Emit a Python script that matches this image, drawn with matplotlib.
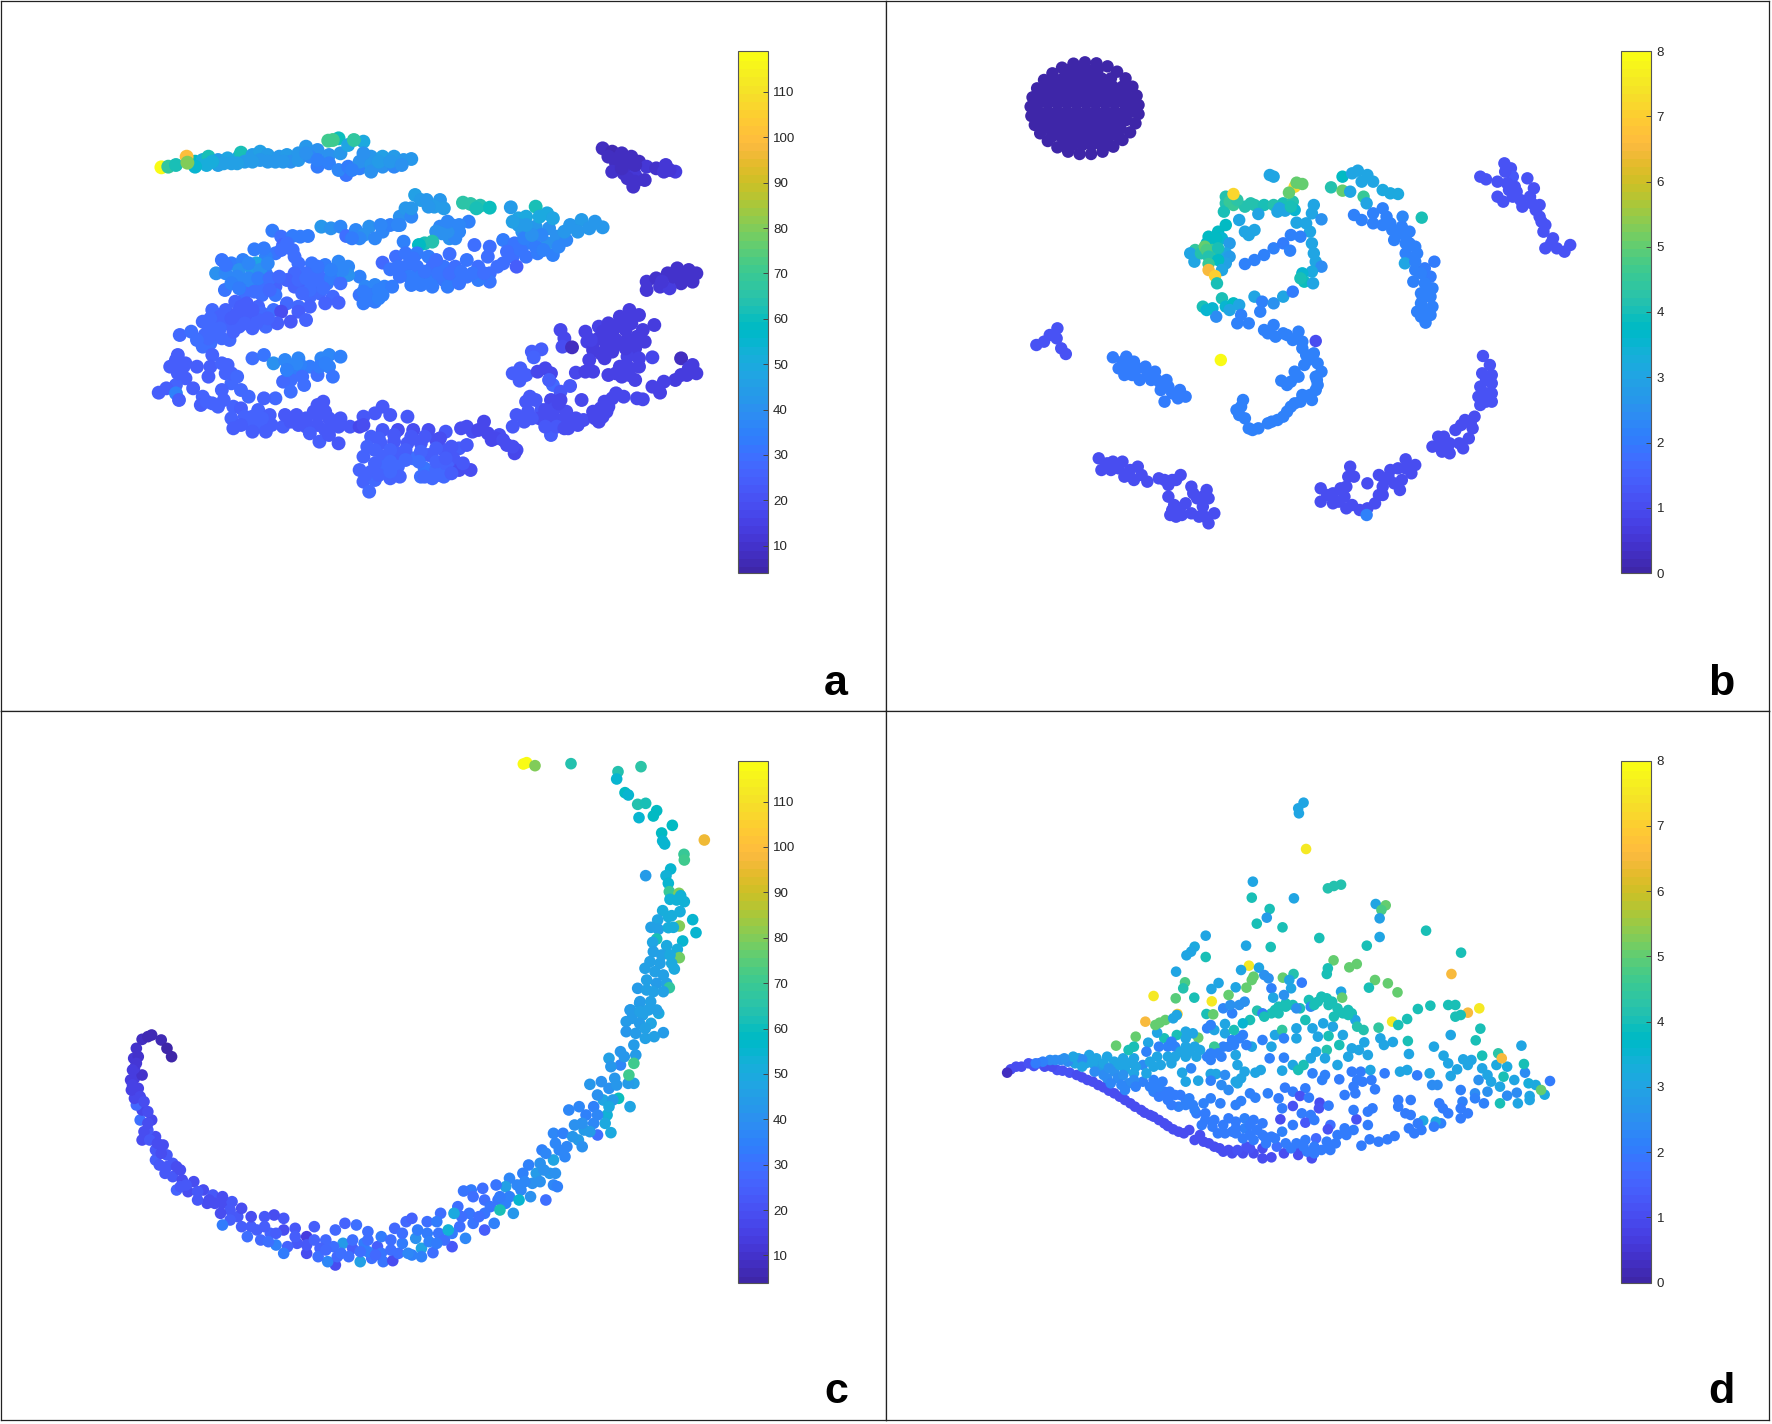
import numpy as np
import matplotlib
matplotlib.use('Agg')
import matplotlib.pyplot as plt
from matplotlib.colors import ListedColormap

plt.rcParams['font.family'] = ['Liberation Sans', 'DejaVu Sans']

# parula, the newer matlab version
parula_rgb = [
    [0.2422,0.1504,0.6603],[0.2504,0.1650,0.7076],[0.2578,0.1818,0.7511],[0.2647,0.1978,0.7952],
    [0.2706,0.2147,0.8364],[0.2751,0.2342,0.8710],[0.2783,0.2559,0.8991],[0.2803,0.2782,0.9221],
    [0.2813,0.3006,0.9414],[0.2810,0.3228,0.9579],[0.2795,0.3447,0.9717],[0.2760,0.3667,0.9829],
    [0.2699,0.3892,0.9906],[0.2602,0.4123,0.9952],[0.2440,0.4358,0.9988],[0.2206,0.4603,0.9973],
    [0.1963,0.4847,0.9892],[0.1834,0.5074,0.9798],[0.1786,0.5289,0.9682],[0.1764,0.5499,0.9520],
    [0.1687,0.5703,0.9359],[0.1540,0.5902,0.9218],[0.1460,0.6091,0.9079],[0.1380,0.6276,0.8973],
    [0.1248,0.6459,0.8883],[0.1113,0.6635,0.8763],[0.0952,0.6798,0.8598],[0.0689,0.6948,0.8394],
    [0.0297,0.7082,0.8163],[0.0036,0.7203,0.7917],[0.0067,0.7312,0.7660],[0.0433,0.7411,0.7394],
    [0.0964,0.7500,0.7120],[0.1408,0.7584,0.6842],[0.1717,0.7670,0.6554],[0.1938,0.7758,0.6251],
    [0.2161,0.7843,0.5923],[0.2470,0.7918,0.5567],[0.2906,0.7973,0.5188],[0.3406,0.8008,0.4789],
    [0.3909,0.8029,0.4354],[0.4456,0.8024,0.3909],[0.5044,0.7993,0.3480],[0.5616,0.7942,0.3045],
    [0.6174,0.7876,0.2612],[0.6720,0.7793,0.2227],[0.7242,0.7698,0.1910],[0.7738,0.7598,0.1646],
    [0.8203,0.7498,0.1535],[0.8634,0.7406,0.1596],[0.9035,0.7330,0.1774],[0.9393,0.7288,0.2100],
    [0.9728,0.7298,0.2394],[0.9956,0.7434,0.2371],[0.9970,0.7659,0.2199],[0.9952,0.7893,0.2028],
    [0.9892,0.8136,0.1885],[0.9786,0.8386,0.1766],[0.9676,0.8639,0.1643],[0.9610,0.8890,0.1537],
    [0.9597,0.9135,0.1423],[0.9628,0.9373,0.1265],[0.9691,0.9606,0.1064],[0.9769,0.9839,0.0805]]
parula = ListedColormap(parula_rgb)

# values: (x, y, colour value) in read-off units of each panel
a_streak = [(82,172,119),(100,170,68),(120,165,62),(170,155,58),(190,150,52),(205,140,62),(230,150,44),(255,145,48),
    (285,140,50),(290,128,62),(320,135,45),(340,125,46),(360,135,45),(390,140,42),(410,135,44),(420,155,40),
    (380,155,42),(340,150,42),(300,155,44),(265,160,46),(230,165,46),(200,165,52),(440,150,42),(460,110,42),
    (490,120,40),(520,135,40),(470,140,38),(490,170,34),(520,160,36),(550,130,42),(545,85,60),(610,95,50),
    (570,105,48),(565,195,32),(545,180,38),(570,170,34),(600,175,36),(600,155,40),(630,140,42),(630,165,42),
    (660,140,46),(660,170,40),(690,140,44),(690,170,38),(715,150,42),(735,147,42),(630,185,40),
    (320,155,44),(360,155,42),(400,155,42),(440,130,42),(460,130,40),(490,150,36),(280,160,46),(245,160,46),(215,155,52),
    (170,170,56),(650,155,44),(680,155,42),(610,130,40),(710,165,40),(580,180,36),
    (148,140,100),(150,158,80),(530,90,72),(518,92,72),(585,90,68)]
a_dark_top = [(1235,115,8),(1260,125,7),(1285,130,8),(1310,140,8),(1330,155,9),(1270,160,9),(1300,165,9),(1260,185,10),
    (1290,190,10),(1320,195,12),(1345,210,10),(1315,230,11),(1350,170,12),(1375,175,10),(1400,165,12),(1425,185,14),
    (1280,145,8),(1300,205,10),(1250,140,8),(1275,145,8),(1295,150,8),(1320,165,9),(1285,175,9),(1320,215,10),(1395,185,12),(1410,180,12)]
a_dark_mid = [(1350,515,12),(1350,540,12),(1375,505,11),(1385,530,12),(1405,490,10),(1430,475,10),(1460,480,10),
    (1480,490,10),(1470,515,11),(1440,520,11),(1410,535,13),(1420,500,11),(1390,515,12),(1435,495,10),(1450,500,10),(1460,500,11)]
a_ridge = [(500,350,42),(525,355,40),(550,350,38),(565,378,30),(590,360,38),(610,375,40),(625,350,40),(640,385,38),
    (660,365,38),(680,345,36),(705,320,40),(720,295,42),(745,255,46),(760,270,44),(735,320,38),(775,270,42),
    (810,270,42),(820,295,44),(795,290,44),(810,350,38),(840,345,38),(860,365,38),(885,335,36),(835,385,40),(815,370,40),
    (850,385,38),(715,395,36),(900,405,30),(600,385,38),(580,385,34),(700,345,38),(655,345,38),(735,295,42),(705,345,38),
    (780,290,42),(830,365,40),(800,365,40),(830,335,38),(860,345,38),
    (870,278,66),(890,282,66),(915,287,64),(940,293,60),(905,295,62),(770,400,62),(790,395,64),(755,405,58)]
a_mass = [(695,440,30),(660,458,28),(680,478,32),(720,430,32),(750,430,34),(780,440,34),(720,470,32),(750,470,32),
    (730,500,34),(760,500,34),(790,470,30),(790,510,34),(820,470,32),(850,470,30),(880,450,32),(835,432,30),
    (820,510,32),(850,500,32),(880,500,32),(910,470,30),(935,440,30),(940,490,30),(940,515,32),(960,470,30),
    (910,510,34),(830,530,34),(735,525,34),(940,410,30),(975,390,34),(1005,400,32),(1035,400,34),(1000,440,30),
    (1035,440,32),(1010,470,24),(975,460,30),(1065,430,34),(1055,400,36),(1105,435,36),(1090,400,40),(1115,380,40),
    (1140,390,38),(1150,345,42),(1180,330,44),(1215,335,42),(1235,352,42),(1200,355,42),(1170,365,42),(1095,355,40),
    (1060,350,42),(1025,365,40),(1015,325,48),(995,292,44),(1035,320,50),(1060,290,62),(1090,310,50),(1105,325,48),
    (1015,345,44),(1070,320,50),(700,470,32),(705,500,32),(740,445,32),(770,485,32),(805,490,32),(835,490,30),(865,485,32),
    (895,490,32),(925,490,30),(800,450,30),(860,520,32),(790,530,34),(760,525,34),(1020,420,32),(985,425,30),(1060,410,34),
    (1080,420,36),(1030,385,36),(1075,375,38),(1050,375,40),(1120,410,38),(1135,365,42),(1035,345,44),(1000,335,46)]
a_upper_left = [(372,362,34),(395,380,30),(425,378,34),(465,378,34),(445,380,34),(400,405,26),(380,430,32),(425,420,30),
    (325,418,34),(355,440,36),(240,450,32),(265,460,34),(295,450,36),(330,460,48),(225,490,40),(250,490,38),
    (285,480,40),(320,480,44),(355,490,34),(295,520,36),(320,530,38),(350,520,30),(380,530,26),(248,540,32),
    (300,550,30),(345,555,30),(380,555,32),(440,460,30),(475,460,32),(510,465,34),(545,455,38),(570,470,38),
    (600,500,36),(570,495,40),(540,490,40),(460,490,30),(490,490,30),(430,490,28),(445,525,26),(480,520,30),
    (515,520,32),(495,550,28),(530,560,28),(545,578,26),(510,580,26),(430,530,26),(470,560,28),(615,530,38),
    (640,525,38),(665,530,36),(685,530,34),(600,555,32),(630,555,34),(660,555,36),(610,580,34),(640,575,34),
    (410,580,28),(440,590,28),(470,590,26),(440,605,24),(250,465,32),(310,460,38),(340,480,40),(280,500,38),(310,505,38),
    (265,520,36),(335,505,34),(365,505,30),(285,535,34),(325,545,30),(365,540,28),(410,510,26),(390,500,28),(440,510,28),
    (460,505,30),(500,505,30),(525,505,34),(550,520,30),(505,535,30),(470,540,30),(450,550,28),(555,480,38),(525,480,36),
    (490,470,32),(610,545,34),(650,540,36),(625,570,34),(650,565,36),(410,400,30),(395,420,30),(350,415,34),(360,460,38),(430,440,30)]
a_left = [(275,575,26),(305,580,24),(335,590,26),(215,600,28),(250,600,26),(280,610,24),(310,615,24),(345,610,28),
    (375,600,30),(395,605,20),(190,635,28),(220,640,28),(250,640,26),(285,650,26),(320,655,26),(355,650,28),
    (385,640,24),(420,635,22),(460,630,26),(130,675,28),(160,665,30),(195,675,28),(225,670,28),(260,690,28),
    (190,710,30),(210,700,30),(125,735,24),(145,760,24),(105,770,24),(140,770,24),(175,770,24),(215,735,26),
    (210,770,24),(205,800,24),(145,805,24),(120,825,26),(95,835,24),(75,848,24),(120,850,36),(128,870,24),(165,835,24),
    (235,620,26),(265,625,24),(300,630,24),(335,630,26),(205,650,28),(235,655,28),(270,665,26),(300,640,26),(210,625,28),
    (240,685,28),(205,685,28),(175,690,30),(290,590,24),(320,600,24),(360,625,26),(330,640,26),(130,760,24),(120,750,24),(125,790,24)]
a_ring = [(255,765,26),(250,790,26),(265,820,28),(290,840,28),(310,860,28),(320,745,30),(350,735,32),(375,760,40),
    (405,750,38),(440,745,38),(430,780,34),(420,810,30),(455,825,30),(400,815,28),(420,845,30),(380,865,28),
    (350,865,26),(470,770,34),(500,745,38),(520,735,38),(550,740,36),(520,770,36),(490,795,30),(530,800,32),(240,840,26),
    (240,760,26),(265,790,26),(280,800,28),(445,765,36),(450,800,30),(435,760,38),(495,770,34),(510,760,36),(410,780,36)]
a_bottom = [(190,860,26),(185,885,24),(215,880,26),(245,870,26),(270,890,26),(290,895,24),(265,925,26),(335,900,26),
    (365,915,24),(310,940,26),(340,945,26),(370,945,24),(400,950,24),(270,955,24),(320,965,24),(405,915,22),
    (435,915,22),(460,925,22),(490,885,22),(505,875,22),(490,915,22),(520,925,22),(550,925,22),(440,945,22),
    (470,950,22),(510,960,22),(545,950,22),(575,950,22),(495,995,24),(545,1000,22),(600,950,18),(610,920,22),
    (640,910,22),(660,890,22),(680,915,22),(725,920,22),(630,980,24),(660,960,22),(700,960,20),(740,960,20),
    (780,960,20),(825,965,22),(620,1010,26),(655,1000,24),(690,995,22),(725,1000,22),(760,1000,22),(800,990,20),
    (610,1040,26),(660,1040,26),(700,1030,24),(740,1045,30),(780,1035,24),(820,1020,22),(860,1015,24),(880,1005,22),
    (845,1045,22),(600,1080,26),(630,1085,26),(665,1070,28),(700,1070,28),(770,1075,32),(800,1080,28),(830,1070,26),
    (860,1080,20),(890,1080,20),(610,1115,26),(640,1110,28),(680,1105,26),(705,1100,26),(760,1100,30),(790,1105,28),
    (820,1100,28),(625,1145,28),(865,955,20),(895,965,20),(925,935,18),(935,970,18),(965,975,20),(945,990,18),
    (985,1005,20),(1010,1020,20),(1005,1030,18),(200,875,26),(230,890,26),(300,920,26),(345,925,26),(320,920,26),(290,945,24),
    (355,965,24),(420,935,22),(460,950,22),(490,945,22),(530,945,22),(510,905,22),(480,905,22),(470,970,24),(520,975,22),
    (610,945,20),(650,985,24),(690,975,22),(735,980,22),(770,980,22),(810,985,20),(640,1020,26),(680,1020,26),(720,1020,24),
    (760,1025,26),(800,1015,24),(840,1010,22),(640,1060,26),(680,1055,28),(720,1050,28),(755,1055,30),(800,1055,26),(825,1045,24),
    (650,1095,26),(680,1085,28),(770,1100,28),(805,1095,28),(840,1090,24),(870,1060,22),(615,1095,26),(880,950,20),(910,960,18),
    (955,985,18),(975,990,20),(1000,1010,20)]
a_right = [(1125,660,18),(1135,685,18),(1130,710,20),(1155,712,8),(1190,665,16),(1195,695,16),(1225,650,16),(1250,640,14),
    (1280,620,14),(1305,600,14),(1330,615,14),(1370,645,14),(1225,685,14),(1260,670,14),(1295,660,14),(1325,680,14),
    (1345,695,14),(1210,720,14),(1245,710,14),(1280,700,14),(1320,715,14),(1200,750,15),(1240,745,14),(1300,740,15),
    (1365,742,18),(1300,770,16),(1330,770,16),(1250,795,16),(1285,800,16),(1320,810,16),(1165,788,17),(1210,785,15),
    (1440,745,8),(1470,765,13),(1455,795,13),(1480,790,13),(1425,810,14),(1395,815,15),(1365,830,16),(1385,848,15),
    (1050,725,24),(1075,718,24),(1055,742,26),(1000,790,24),(1020,775,24),(1035,795,24),(1018,812,24),(1085,775,17),
    (1065,785,17),(1100,790,18),(1105,825,28),(1150,828,22),(1125,845,22),(1045,860,22),(1035,875,22),(1060,870,22),
    (1100,870,18),(1125,870,18),(1180,870,18),(1010,915,22),(1040,905,22),(1075,900,22),(1110,895,20),(1140,905,20),
    (1000,950,22),(1030,935,22),(1070,925,20),(1100,930,20),(1130,930,20),(1165,925,20),(1185,930,20),(1100,975,24),
    (1145,955,20),(1210,905,18),(1240,875,18),(1270,850,18),(1290,860,18),(1325,865,17),(1340,868,18),(1225,935,18),
    (1245,905,18),(1215,925,18),(1210,700,14),(1235,665,14),(1270,650,14),(1300,625,14),(1280,640,14),(1310,640,14),(1340,660,14),
    (1205,690,15),(1240,690,14),(1270,690,14),(1300,690,14),(1260,725,14),(1230,730,14),(1295,715,14),(1330,745,16),(1280,770,16),
    (1270,790,16),(1305,795,16),(1190,785,16),(1085,900,20),(1105,915,20),(1120,880,18),(1150,925,20),(1050,925,22),(1085,950,22),
    (1115,950,22),(1170,945,20),(1135,955,20),(1260,865,18),(1230,895,18),(1250,890,18),(1235,920,18),(1095,810,24),(1440,795,13),(1460,775,13)]

# the disc in b, rim then rows of points, all near 0
b_disc_rim = [(222,67),(252,70),(281,79),(306,95),(328,115),(346,140),(357,167),(362,195),(362,222),
    (354,250),(340,277),(320,300),(296,320),(268,335),(238,342),(208,342),(178,335),(150,322),
    (125,303),(105,280),(91,255),(82,228),(80,200),(85,172),(97,145),(115,120),(137,100),(162,83),(192,71)]
b_disc_rows = {90: [180,205,230,255], 115: [140,165,190,215,240,265,290], 140: [120,145,170,195,220,245,270,295,320],
    165: [105,130,155,180,205,230,255,280,305,330], 190: [100,125,150,175,200,225,250,275,300,325,345],
    215: [100,125,150,175,200,225,250,275,300,325,345], 240: [105,130,155,180,205,230,255,280,305,330],
    265: [115,140,165,190,215,240,265,290,315], 290: [135,160,185,210,235,260,285,310], 315: [165,190,215,240,265,280]}
b_disc_value = 0.05
b_disc = [(x, y, b_disc_value) for x, y in b_disc_rim] + [(x, y, b_disc_value) for y, xs in b_disc_rows.items() for x in xs]

b_centre = [(705,405,3),(715,410,3),(590,470,4.2),(590,490,4.2),(585,515,4),(610,495,4.5),(640,500,4.2),(665,495,4.2),
    (690,495,4.1),(715,495,4.2),(740,490,4),(765,485,4.2),(770,510,3.5),(745,512,3),(725,515,3),(675,522,3),(625,540,3),
    (640,575,3),(665,570,3),(650,585,3),(600,485,4.5),(620,480,4.3),(655,490,4.2),(730,505,3),(760,500,4),(610,462,7.2),(770,440,7.2),(775,428,5),(790,432,5),(755,458,5),(820,495,3),
    (815,520,3),(840,538,2.5),(775,548,3),(800,550,3),(810,575,3),(815,610,3),(820,640,3),(825,665,3),(840,680,2.4),
    (815,695,3.2),(790,700,3.5),(795,725,3.9),(785,715,4),(818,730,3),(640,672,2.2),(665,660,2.2),(690,645,2.2),
    (715,625,2.2),(740,610,2),(760,585,2.2),(785,590,2.2),(758,632,2.2)]
b_bunch = [(590,555,3.8),(570,575,3.8),(545,590,3.8),(580,595,3.5),(600,610,2.8),(510,630,4.4),(497,640,3),(508,665,3),
    (565,595,3.8),(540,610,3.8),(560,610,3.8),(590,640,3),(525,640,4.2),(555,630,4.5),
    (535,620,5),(540,630,4.8),(570,625,4),(545,650,4.2),(600,650,2.8),(590,670,2.9),(570,660,3.8),(545,672,4.5),
    (580,690,3),(545,690,6.5),(562,708,7),(567,730,4.1),(530,800,4),(555,805,3.5),(580,775,4),(590,800,3.5),(610,790,3.8),
    (625,795,3),(565,830,2.4),(540,810,3.5),(600,810,3)]
b_stem = [(630,825,2.2),(620,850,2.2),(665,770,3),(685,785,2.2),(715,790,2.5),(740,770,3),(765,755,2),(680,815,2.2),
    (650,850,2.2),(690,870,2.2),(715,855,2.2),(720,890,2.2),(750,885,2.2),(780,875,2.2),(790,905,2.2),(825,903,1),
    (800,945,2.2),(820,940,2.2),(795,975,2.2),(770,995,2.2),(840,995,2.2),(760,1025,2.2),(735,1022,2.2),(828,1020,2.2),
    (825,1050,2.2),(790,1065,2.2),(815,1080,2.2),(770,1090,2.2),(750,1115,2.2),(725,1140,2.2),(700,1150,2.2),
    (675,1165,2.2),(650,1165,2.2),(640,1135,2.2),(618,1110,2.2),(635,1080,2.2),(630,1100,2.2),(700,880,2.2),(740,880,2.2),
    (765,900,2.2),(790,925,2.2),(805,960,2.2),(830,970,2.2),(825,1010,2.2),(830,1035,2.2),(810,1065,2.2),(785,1085,2.2),(760,1100,2.2),
    (740,1130,2.2),(710,1145,2.2),(660,1170,2.2),(625,1125,2.2),(780,1010,2.2),(750,1035,2.2),(577,960,8)]
b_arc = [(895,410,3.8),(920,400,3),(935,392,3),(960,405,3),(975,425,3),(865,442,4.2),(895,452,5),(915,455,3),(945,425,3),
    (1000,450,3.2),(1040,462,3.2),(1020,460,3.2),(950,470,4.5),(958,490,3),(925,525,2.2),(945,540,2.2),(975,520,2.2),
    (975,550,2.2),(1000,505,2.2),(1010,530,2.2),(1000,555,2.2),(1052,530,2.3),(1102,533,4.1),(1050,560,2.2),(1025,570,2.2),
    (1070,575,2.2),(1030,600,2.2),(1060,610,2.2),(1085,620,2.2),(1060,640,2.2),(1075,655,2.2),(1135,665,2),(1058,670,3),
    (1085,690,2.2),(1110,685,2.1),(1125,710,2),(1080,725,2.2),(1110,730,2.2),(1130,745,2.2),(1100,760,2.2),(1125,770,2.2),
    (1100,790,2.2),(1130,800,2.2),(1090,815,2.2),(1125,825,2.2),(1112,848,2.2),(1060,590,2.2),(1070,610,2.2),(1090,640,2.2),
    (1085,665,2.2),(1100,700,2.2),(1115,750,2.2),(1105,775,2.2),(1115,810,2.2),(1100,830,2.2),(1020,550,2.2),(1040,580,2.2)]
b_far_right = [(1255,410,1.2),(1270,418,1.2),(1318,370,1.2),(1335,385,1.2),(1340,410,1.3),(1300,425,1.2),(1325,430,1.2),
    (1378,415,1.2),(1395,445,1.2),(1350,455,1.2),(1385,470,1.2),(1300,470,1.2),(1315,485,1.2),(1365,500,1.2),(1410,495,1.2),
    (1410,530,1.2),(1425,555,1.2),(1420,575,1.2),(1445,595,1.2),(1425,625,1.2),(1455,625,1.2),(1475,635,1.2),(1490,615,1.2),
    (1340,470,1.2),(1320,395,1.2),(1330,450,1.2),(1360,480,1.2),(1390,490,1.2),(1400,510,1.2),(1415,545,1.2),(1440,610,1.2),(1345,440,1.2)]
b_left = [(150,865,1.2),(130,885,1.2),(95,915,1.2),(115,905,1.2),(148,895,1.2),(160,925,1.2),(172,942,1.2),
    (295,952,2),(330,950,2),(350,965,2),(310,985,2),(340,990,2),(380,980,2),(325,1005,2),(365,1020,2),(405,995,2),
    (395,1020,2),(435,1020,2),(420,1050,2),(440,1040,2),(430,1085,2),(470,1050,2),(465,1075,2),(485,1070,2),
    (320,965,2),(330,975,2),(360,985,2),(345,1005,2),(385,1005,2),(410,1020,2),(420,1030,2),(450,1060,2)]
b_low_left = [(258,1255,1.1),(265,1290,1.1),(295,1265,1.1),(320,1265,1.1),(360,1280,1.1),(325,1310,1.1),(350,1320,1.1),
    (385,1325,1.1),(415,1315,1.1),(440,1335,1.1),(472,1305,1.1),(450,1320,1.1),(500,1340,1.1),(540,1350,1.1),(515,1375,1.1),
    (440,1370,1.1),(455,1395,1.1),(485,1390,1.1),(445,1425,1.1),(475,1425,1.1),(520,1430,1.1),(560,1420,1.1),(545,1450,1.1),
    (530,1400,1.1),(545,1375,1.1),(280,1270,1.1),(310,1285,1.1),(340,1290,1.1),(370,1305,1.1),(290,1290,1.1),(430,1320,1.1),(460,1320,1.1),
    (505,1360,1.1),(530,1370,1.1),(450,1410,1.1),(460,1430,1.1),(500,1420,1.1),(535,1430,1.1),(470,1405,1.1)]
b_low_right = [(1262,948,1.2),(1280,975,1.2),(1260,1000,1.2),(1285,1005,1.2),(1285,1030,1.2),(1255,1040,1.2),(1285,1060,1.2),
    (1250,1070,1.2),(1285,1085,1.2),(1255,1095,1.2),(1240,1130,1.1),(1215,1140,1.1),(1235,1165,1.1),(1190,1170,1.1),
    (1225,1195,1.1),(1145,1190,1.1),(1175,1210,1.1),(1130,1220,1.1),(1155,1235,1.1),(1175,1240,1.1),(1200,1210,1.1),
    (1060,1258,1.1),(1085,1275,1.1),(1040,1285,1.1),(1075,1300,1.1),(990,1305,1.1),(1015,1310,1.1),(1050,1320,1.1),
    (1000,1340,1.1),(1045,1350,1.1),(990,1365,1.1),(915,1280,1.1),(925,1310,1.1),(905,1340,1.1),(960,1330,1.1),
    (838,1345,1.1),(870,1360,1.1),(900,1370,1.1),(838,1385,1.1),(870,1390,1.1),(905,1405,1.1),(940,1410,1.1),
    (980,1390,1.1),(1270,1020,1.2),(1270,1060,1.2),(1270,1085,1.2),(1230,1150,1.1),(1205,1155,1.1),(1160,1190,1.1),(1170,1230,1.1),
    (1210,1225,1.1),(1150,1210,1.1),(1020,1290,1.1),(1060,1285,1.1),(1030,1330,1.1),(1070,1280,1.1),(1005,1320,1.1),(910,1310,1.1),
    (890,1345,1.1),(885,1385,1.1),(855,1365,1.1),(920,1395,1.1),(960,1405,1.1),(1000,1365,1.1),(958,1425,2.2)]

# c_top was read at 3 units per pixel across, the rest of c at 2.613
c_top = [(1270,-708,119),(1280,-712,119),(1305,-703,80),(1413,-709,65),(1554,-685,65),(1550,-663,55),(1623,-700,66),
    (1575,-622,58),(1585,-615,56),(1613,-587,65),(1637,-590,62),(1670,-568,58),(1660,-552,58),(1617,-547,55),(1717,-524,58),
    (1685,-501,58),(1688,-477,56),(1694,-468,56),(1813,-480,97),(1752,-437,70),(1753,-420,72),(1712,-393,56),(1698,-373,54),
    (1637,-373,44),(1705,-350,55),(1708,-325,70),(1737,-320,80),(1710,-302,54),(1730,-300,54),(1742,-313,54),(1753,-295,54),
    (1688,-268,52),(1740,-265,52),(1715,-253,52),(1705,-250,52),(1778,-241,56),(1788,-202,56),(1673,-240,48),(1653,-218,46),
    (1675,-212,46),(1738,-222,80),(1705,-217,52),(1720,-218,52),(1748,-177,56),(1670,-183,62),(1658,-173,48),(1700,-163,50),
    (1732,-152,52),(1738,-127,78),(1660,-145,46),(1685,-135,46),(1710,-135,50),(1650,-115,46),(1680,-110,46),(1715,-110,50),
    (1723,-93,50),(1635,-95,46),(1665,-85,46),(1640,-60,46),(1690,-75,46),(1670,-50,44),(1700,-50,46),(1708,-37,68),
    (1613,-35,44),(1640,-30,46),(1660,-25,46),(1690,-25,46),(1620,5,44),(1652,5,46),(1592,30,44),(1670,30,46),(1620,35,46),(1645,30,46)]
c_rise = [(1410,10,46),(1385,30,42),(1418,45,46),(1460,40,50),(1375,65,44),(1410,70,44),(1440,70,48),(1375,95,42),(1400,100,44),
    (1425,115,46),(1472,98,44),(1448,110,46),(1395,135,44),(1360,155,42),(1330,175,46),(1360,195,38),(1335,200,42),
    (1345,235,42),(1395,250,46),(1310,245,40),(1280,253,42),(1330,265,40),(1355,295,60),(1315,300,48),(1290,320,36),
    (1225,330,38),(1252,320,38),(1325,345,54),(1320,370,50),(1335,398,50),(1385,320,48),(1270,345,36),(1290,370,38),(1240,375,40),
    (1265,390,44),(1300,405,30),(1185,400,38),(1210,400,36),(1250,420,44),(1190,430,38),(1220,440,38),(1260,440,40),(1155,450,36),
    (1185,480,48),(1215,470,38),(1120,495,36),(1150,490,40),(1105,520,36),(1140,520,44),(1175,520,42),(1070,535,38),(1130,550,40),
    (1090,555,38),(1185,555,38),(1195,560,36),(1060,560,46),(1035,555,32),(1000,565,30),(970,570,34),(950,573,32),(1070,590,36),
    (1125,590,40),(1165,600,30),(1080,640,42),(1040,600,32),(1005,600,30),(975,590,30),(935,620,30),
    (965,640,32),(1005,640,32),(1030,670,36),(890,640,30),(855,665,30),(880,665,34),(940,680,30),
    (975,670,32),(1005,690,24),(955,715,38),(920,740,22),(885,700,32),(855,700,34),(825,715,40),(800,665,28),(770,685,28),
    (815,655,26),(790,700,30),(760,720,30),(805,760,38),(840,745,48),(870,758,30),(840,770,36),(945,650,30),(990,650,30),(1020,620,32),
    (1060,610,36),(1045,590,34),(1100,570,38),(1110,545,38),(1150,545,40),(1160,510,40),(1190,520,40),(1165,460,38),(1200,450,38),
    (1235,410,42),(1280,395,44),(1260,370,40),(1300,345,38),(1340,300,44),(1330,320,50),(1300,285,40),(1350,255,42),(1380,250,44),
    (1370,170,42),(1400,165,44),(1390,55,44),(1425,85,46),(830,690,34),(860,725,36),(900,720,30),(920,700,34),(880,730,34),
    (1095,600,56),(1045,630,62),(925,640,50),(910,690,54),(1395,190,72),(1382,225,72)]
c_floor = [(725,740,24),(735,710,34),(700,695,30),(670,675,30),(640,670,26),(615,690,28),(635,730,44),(660,745,24),(690,730,34),
    (610,740,30),(590,720,28),(560,680,24),(540,710,14),(575,745,26),(540,760,20),(515,730,22),(510,685,22),(480,655,22),
    (455,645,20),(430,650,22),(480,690,20),(445,700,26),(420,720,28),(460,735,36),(490,740,26),(480,760,34),(395,650,20),
    (370,625,20),(345,605,22),(320,590,20),(370,680,24),(340,660,24),(315,640,20),(320,675,34),(385,710,30),
    (615,795,20),(595,785,38),(570,770,30),(620,770,28),(650,770,30),(680,785,46),(710,775,30),(740,785,32),(765,782,20),
    (780,760,30),(815,765,36),(700,755,34),(735,760,32),(430,680,24),(460,700,24),(440,725,30),(510,710,24),(540,735,22),(590,750,28),
    (560,720,26),(630,760,30),(660,720,30),(700,720,30),(720,765,28),(680,755,30),(760,750,30),(790,730,34)]
c_tail = [(280,610,20),(255,600,22),(230,575,20),(270,570,20),(295,585,22),(245,545,20),(200,570,26),(190,530,22),(215,540,20),
    (210,510,20),(175,500,22),(145,480,24),(175,465,22),(145,450,22),(165,435,20),(110,420,20),(145,410,20),(125,390,22),
    (135,360,18),(105,360,30),(110,330,18),(95,315,28),(90,295,18),(100,265,16),(90,235,14),(110,225,10),(90,205,14),(88,175,12),
    (95,145,10),(110,118,8),(135,105,7),(160,120,6),(175,145,5),(187,170,5),(82,270,16),(80,240,14),(125,110,7),
    (100,170,10),(95,190,12),(85,210,14),(85,255,16),(105,290,18),(115,305,20),(125,335,20),(125,370,20),(115,395,20),(130,420,22),
    (150,430,20),(160,460,20),(155,495,22),(190,490,22),(200,500,20),(170,520,22),(225,555,22),(210,560,22),(255,575,22),(285,600,20),
    (300,610,20),(320,610,20),(340,630,22),(360,650,22),(395,680,24),(410,690,24)]

d_sparse = [(850,8,3),(835,25,3),(837,40,3),(857,147,7.5),(708,245,3),(705,293,4.1),(823,295,3),(755,327,4.1),(747,353,2.8),
    (719,371,4.1),(791,382,4),(918,265,4.2),(935,258,4.2),(955,254,4.2),(1052,312,3),(1080,316,5),(1068,330,4.8),(1063,355,2.9),
    (1193,392,4),(894,414,4),(1063,411,3),(1027,437,4.1),(758,441,4),(689,437,3),(576,407,3),(545,440,3.2),(535,455,3),(522,466,3),
    (576,471,4),(1291,458,4),(1264,522,6.5),(934,481,5),(918,505,4.1),(915,522,4.1),(978,502,5),(999,492,5),(697,497,7.5),(725,503,3),
    (675,510,3),(493,515,3),(740,525,2.5),(710,530,5),(705,540,5),(752,535,2.6),(792,533,5),(822,522,4.2),(845,548,2),(810,540,3),
    (518,547,4.8),(513,565,4.2),(612,549,3),(592,567,3),(660,562,3),(690,563,5),(760,565,2.2),(815,565,3),(795,585,2.5),(640,585,5),
    (544,593,4.1),(492,595,4.9),(430,588,7.5),(593,604,7.5),(765,593,3),(955,575,3),(958,593,5),(1050,540,5),(1033,563,4.1),(1086,550,5),
    (1113,577,5),(1205,617,4.1),(1170,627,4.1),(1255,615,4.1),(1275,615,4.1),(1342,625,7.5),(1310,638,6.5),(1275,650,4.1),(1290,645,4.1),
    (1140,657,4.1),(1098,665,7.5),(1115,675,4),(1060,683,4.4),(1345,686,4.1),(1262,705,3),(1332,721,4.1),(1142,723,4.1),(1065,715,3),
    (1075,735,3),(1100,726,3),(1215,740,3),(1145,762,3),(1460,737,3),(1350,767,4),(1395,760,4.3),(1405,775,6.5),(1242,767,3),(1255,790,3),
    (1297,778,3),(1320,780,3),(1280,808,3),(1310,795,3),(1262,828,3),(1467,792,4.1),(1350,805,3),(1120,815,3),(1140,810,3),(1077,820,2),
    (1168,826,2.1),(1203,820,3),(1037,810,3)]
d_right = [(1340,840,2.5),(1365,825,3),(1390,795,3.2),(1420,800,3.2),(1410,830,4),(1375,845,3),(1440,840,3),(1470,818,2.4),(1400,860,3),
    (1365,875,2.5),(1420,887,2.4),(1447,878,2.4),(1480,850,3.3),(1500,855,3.2),(1483,888,3),(1525,884,3.2),(1515,870,5),(1540,843,2),(1400,910,4),
    (1450,910,3),(1483,900,3),(1330,880,2.4),(1330,895,2.2),(1355,910,2.2),(1290,870,2.2),(1295,905,2.2),(1230,910,2),(1240,925,2),
    (1290,925,2),(1310,940,2),(1290,955,2.1),(1255,940,2),(1235,970,2.2),(1220,965,3),(1215,980,2),(1185,962,3),(1150,945,2),(1135,940,2),
    (1115,900,2),(1150,900,2),(1115,920,2),(1170,970,2),(1145,985,2),(1180,990,2),(1160,1000,2),(1105,1008,2),(1085,1018,2),(1060,1025,2),
    (1035,1018,2),(1012,1037,2),(1210,855,2.4),(1225,855,2.4),(1030,975,2)]
d_arch = [(720,632,4.2),(760,640,4),(780,620,4),(800,620,4.1),(820,615,4),(865,600,4.1),(890,605,4),(915,595,4.1),(920,615,4),(945,625,4),
    (975,630,4.1),(985,640,4),(995,660,3),(1000,680,4.2),(1018,690,4.2),(935,650,4),(855,660,4),(870,620,2.4),(735,640,2.2),(700,660,4),
    (740,650,4),(770,630,4),(800,610,4),(840,625,4),(880,615,4),(900,590,4.1),(930,605,4),(960,640,4),(975,645,4),(780,640,4),(830,625,2.5),
    (680,670,3.5),(655,690,4),(630,672,3),(578,642,4),(597,643,5),(497,642,7),(463,660,5),(447,668,5),(435,675,5),(407,665,6.5),(495,645,3),(485,655,3),
    (625,625,2.3),(650,640,2.2),(645,615,2.5),(670,615,2.5),(685,605,2.5)]
d_mid = [(580,685,2.2),(600,690,3),(630,700,3),(520,695,3),(495,705,4),(460,715,4),(440,698,3),(415,728,3),(380,710,5),(375,740,4),(325,737,5),
    (360,750,4),(555,713,5),(680,705,2.2),(655,735,2.2),(625,740,2.2),(600,740,4.5),(705,740,3),(735,720,2.2),(770,705,3),(790,690,4.4),
    (795,715,2.2),(830,685,3),(830,715,3),(875,685,3),(905,670,3),(932,680,3),(890,710,3),(920,708,4),(960,705,3),(1020,727,3),(950,735,4),
    (915,750,4.2),(885,755,3),(870,775,3),(985,745,3),(1030,765,3),(1005,750,3),(975,770,3),(945,795,3),(910,775,3),(760,740,3),(755,775,2.2),
    (795,773,2.2),(730,810,3),(715,818,3),(790,812,3),(820,795,3),(850,795,4),(835,810,4),(875,820,2.2),(910,825,2.2),(902,840,2.2),(685,815,3),
    (675,835,3),(660,845,3),(665,795,3),(660,765,3),(490,740,2.2),(470,740,2.2),(445,740,2.2),(410,755,2.2),(520,740,3),(545,740,3),(490,770,3),
    (520,770,3),(550,770,3),(580,770,2.2),(620,770,2.2),(590,760,2.2),(640,740,2.2),(480,790,3),(450,795,3),(430,800,3),(535,805,2.3),(510,818,3),
    (520,845,3),(555,842,3),(590,822,3),(605,822,3),(630,825,2.4),(590,842,2.2),(620,855,2.4),(640,870,2.4),(665,850,3),
    (650,720,2.2),(670,715,2.2),(690,735,2.2),(610,760,2.2),(590,780,2.2),(560,750,3),(530,755,3),(505,755,3),(470,770,3),(440,770,3),(420,785,3),
    (540,700,3),(520,715,3),(480,725,2.2),(590,675,2.2)]
d_plateau = [(220,775,3),(250,765,3),(270,775,3),(300,770,3),(320,785,3),(280,800,2.8),(240,790,3),(210,790,3),(230,778,2.4),(345,775,3),(375,775,3),
    (350,810,3),(375,820,3),(400,795,2.4),(320,815,2.5),(290,825,2.4),(330,835,2.4),(360,850,2.4),(400,845,2.2),(410,820,3),(170,780,2.4),(140,780,2.4),
    (190,785,2.4),(120,785,2.2),(100,790,2),(230,800,3),(260,790,3),(290,790,3),(305,805,2.6),(335,795,3),(360,790,3),(380,800,3),(300,835,2.4),(345,825,2.6),
    (375,840,2.4),(310,850,2.3),(340,855,2.3),(265,815,2.4),(350,870,2.3),(380,860,2.2),(205,770,3),(180,775,2.6),(155,780,2.4)]
d_edge = [(30,808,1),(60,800,1.1),(95,798,1.2),(125,800,1),(160,810,1.2),(195,818,1.2),(230,832,1.1),(260,845,1.1),(290,862,1.1),(320,880,1.1),
    (350,900,1.1),(378,920,1),(405,938,1.1),(430,950,1.1),(460,970,1.1),(485,988,1.1),(515,1000,1.1),(530,990,1.1),(545,1020,1.1),(570,1025,1.1),
    (600,1040,1.1),(625,1055,1.1),(650,1060,1.1),(680,1060,1.1),(710,1060,1.1),(735,1075,1),(760,1072,1),(735,1045,1),(690,1040,1.2),(795,1060,1.1),
    (835,1065,1.1),(873,1075,1),(840,1045,1.1),(45,800,1),(80,790,1.2),(110,790,1.2),(145,800,1.1),(175,812,1.2),(215,825,1.1),(245,840,1.1),(275,855,1.1),
    (305,872,1.1),(335,890,1.1),(365,910,1.1),(395,930,1.1),(420,945,1.1),(445,960,1.1),(470,978,1.1),(500,995,1.1),(560,1005,1.1),(585,1030,1.1),(615,1045,1.1),
    (640,1050,1.1),(665,1050,1.2),(700,1045,1.2),(20,818,0.3)]
d_inner = [(430,840,2.2),(455,845,2.2),(430,875,2.2),(460,875,2),(490,885,2),(520,900,2.2),(540,915,2.2),(470,900,2),(500,920,2.2),(445,890,2),(570,910,2.2),
    (590,895,2.2),(617,910,2.2),(660,915,2.2),(675,903,2.2),(750,880,2.2),(700,880,2.2),(715,893,2.2),(550,940,2.1),(575,940,2.1),(565,975,2.1),(600,960,2.1),
    (625,975,2.1),(660,965,2.1),(685,955,2.2),(710,960,2.1),(735,970,2.1),(650,995,2.1),(685,985,2.2),(720,990,2.1),(610,1000,2.1),(760,1010,2),(790,995,2.2),
    (680,1015,2.1),(710,1020,2.1),(745,1030,2.1),(775,1040,1.8),(800,1030,2.1),(830,1030,2.1),(855,1020,2.1),(885,1015,1.7),(915,1025,2),(925,1050,2.1),
    (860,1055,2.1),(900,1050,2.1),(945,1005,2.1),(965,985,2.1),(990,990,2.1),(998,958,1.2),(990,930,2),(1030,935,2),(1043,925,2),(925,975,1.8),(918,988,1.2),
    (445,860,2.2),(420,860,2.2),(475,875,2),(505,885,2.1),(520,915,2.2),(480,915,2),(545,930,2.2),(530,895,2.2),(575,960,2.1),(595,980,2.1),(640,955,2.1),(660,985,2.1),
    (700,975,2.1),(700,1005,2.1),(735,1005,2.1),(770,1015,2.1),(740,1010,2),(630,1000,2.1),(660,1000,2.1),(815,1045,2.1),(880,1040,2.1),(920,1040,2.1),(880,1060,2.1),
    (850,1040,2.1),(940,1030,2.1),(970,1005,2.1)]
d_ring = [(798,863,2.1),(820,875,2.1),(855,865,2),(840,888,1.2),(865,893,2.1),(780,895,2.1),(790,925,2.1),(820,918,1.2),(845,940,2),(870,945,2),(895,908,1.1),
    (893,925,1.2),(920,917,2.1),(785,958,1.1),(820,975,2.1),(855,968,1.3),(880,960,2),(965,885,2.1),(995,880,2.1),(990,860,2.1),(950,838,2.1),(985,815,2.1),
    (1010,815,2),(1015,845,2.1),(1040,840,2.1),(1050,868,2.1),(1000,840,2)]

a_points = a_dark_top + a_dark_mid + a_ridge + a_mass + a_upper_left + a_left + a_ring + a_bottom + a_right + a_streak
b_points = b_disc + b_centre + b_bunch + b_stem + b_arc + b_far_right + b_left + b_low_left + b_low_right
c_points = c_tail + c_floor + c_rise + [(x*2.613/3, y, v) for x, y, v in c_top]
d_points = d_edge + d_inner + d_ring + d_plateau + d_right + d_mid + d_arch + d_sparse

W, H = 1772, 1424
fig = plt.figure(figsize=(W/100, H/100), dpi=100)


def px_rect(l, t, r, b):
    return [l/W, 1-b/H, (r-l)/W, (b-t)/H]


def panel(points, box, origin, xscale, cbox, vmin, vmax, ticks, size, letter, letter_pos):
    l, t, r, b = box
    ax = fig.add_axes(px_rect(l, t, r, b))
    # read-off units: xscale per pixel across, 3 per pixel down
    ax.set_xlim((l-origin[0])*xscale, (r-origin[0])*xscale)
    ax.set_ylim((b-origin[1])*3, (t-origin[1])*3)
    ax.set_xticks([])
    ax.set_yticks([])
    for s in ax.spines.values():
        s.set_linewidth(0.9)
        s.set_color('#222222')
    pts = np.array(points, dtype=float)
    sc = ax.scatter(pts[:, 0], pts[:, 1], c=pts[:, 2], s=size, cmap=parula, vmin=vmin, vmax=vmax, linewidths=0)
    cax = fig.add_axes(px_rect(*cbox))
    cb = fig.colorbar(sc, cax=cax, ticks=ticks)
    cb.outline.set_linewidth(0.8)
    cb.outline.set_edgecolor('#555555')
    cb.solids.set_edgecolor('face')
    cax.tick_params(axis='y', direction='in', length=3.5, width=0.7, color='#444444', labelsize=9.6,
                    labelcolor='#262626', pad=4)
    fig.text(letter_pos[0]/W, 1-letter_pos[1]/H, letter, fontsize=31, fontweight='bold', color='black',
             ha='left', va='baseline')


panel(a_points, (1, 1, 885.5, 711), (130, 110), 2.613, (737.5, 51, 767.5, 573), 4, 119, list(range(10, 120, 10)), 100, 'a', (824, 695))
panel(b_points, (885.5, 1, 1769, 711), (1000, 40), 2.613, (1620.7, 51, 1651, 573), 0, 8, list(range(0, 9)), 80, 'b', (1708, 695))
panel(c_points, (1, 711, 885.5, 1420), (100, 1000), 2.613, (737.5, 760.7, 767.5, 1282.7), 4, 119, list(range(10, 120, 10)), 70, 'c', (824, 1403))
panel(d_points, (885.5, 711, 1769, 1420), (1000, 800), 2.8, (1620.7, 760.7, 1651, 1282.7), 0, 8, list(range(0, 9)), 58, 'd', (1708, 1403))

fig.savefig('out.png', dpi=100, facecolor='white')
